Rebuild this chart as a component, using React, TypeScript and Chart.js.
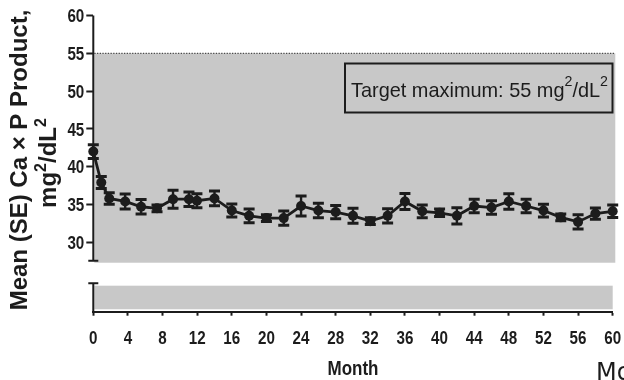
import React, { useEffect, useRef } from 'react';
import { Chart, registerables } from 'chart.js';

Chart.register(...registerables);

// Visit times in months (the first year's visits fell at weeks 4, 8, 16, 24, 32, 40, 48, 52)
const months = [0, 0.92, 1.84, 3.68, 5.52, 7.36, 9.21, 11.05, 11.97, 14, 16, 18, 20, 22, 24, 26, 28, 30, 32, 34, 36, 38, 40, 42, 44, 46, 48, 50, 52, 54, 56, 58, 60];
// Mean Ca x P product, mg2/dL2
const meanCaP = [42.0, 37.9, 35.8, 35.4, 34.7, 34.5, 35.7, 35.7, 35.5, 35.8, 34.2, 33.5, 33.2, 33.2, 34.8, 34.2, 34.0, 33.5, 32.8, 33.5, 35.4, 34.1, 33.9, 33.5, 34.8, 34.6, 35.4, 34.8, 34.2, 33.3, 32.7, 33.8, 34.1];
// Standard error of the mean
const seCaP = [0.9, 0.8, 0.77, 1.0, 0.95, 0.45, 1.2, 0.95, 0.92, 0.97, 0.86, 0.92, 0.45, 0.95, 1.32, 0.95, 0.88, 0.99, 0.45, 0.95, 1.06, 0.84, 0.5, 1.08, 0.9, 0.88, 1.03, 0.88, 0.84, 0.45, 0.93, 0.75, 0.82];

const yTickValues = [30, 35, 40, 45, 50, 55, 60];
const targetMax = 55;

// Broken y axis: upper segment runs down to upperAxisFloor, lower stub starts at lowerAxisTop
const yMax = 60;
const yMin = 20.82;
const upperAxisFloor = 27.57;
const upperPanelFloor = 27.3;
const lowerAxisTop = 24.58;
const lowerPanelTop = 24.26;
const lowerPanelFloor = 21.14;

const INK = '#1c1c1c';
const PANEL = '#c8c8c8';
const SANS = "'Liberation Sans', Arial, sans-serif";
const CONDENSE = 0.8; // horizontal squeeze for the narrow lettering

type Part = { t: string; font: string; dy?: number };

function richWidth(ctx: CanvasRenderingContext2D, parts: Part[]) {
  let w = 0;
  for (const p of parts) {
    ctx.font = p.font;
    w += ctx.measureText(p.t).width;
  }
  return w;
}

// Draws mixed-size text on one baseline; sx squeezes it horizontally
function drawRich(ctx: CanvasRenderingContext2D, parts: Part[], x: number, y: number, align: 'left' | 'center' | 'right', sx = 1) {
  const w = richWidth(ctx, parts);
  ctx.save();
  ctx.translate(x, y);
  ctx.scale(sx, 1);
  let cx = align === 'center' ? -w / 2 : align === 'right' ? -w : 0;
  ctx.textAlign = 'left';
  ctx.textBaseline = 'alphabetic';
  for (const p of parts) {
    ctx.font = p.font;
    ctx.fillText(p.t, cx, p.dy || 0);
    cx += ctx.measureText(p.t).width;
  }
  ctx.restore();
}

const panelPlugin = {
  id: 'panels',
  beforeDraw(chart: any) {
    const { ctx, chartArea } = chart;
    const x = chart.scales.x;
    const y = chart.scales.y;
    const left = chartArea.left + 1;
    const rightUpper = x.getPixelForValue(60.3);
    const rightLower = x.getPixelForValue(60);
    const top = y.getPixelForValue(targetMax);
    ctx.save();
    ctx.fillStyle = PANEL;
    ctx.fillRect(left, top, rightUpper - left, y.getPixelForValue(upperPanelFloor) - top);
    const lt = y.getPixelForValue(lowerPanelTop);
    ctx.fillRect(left, lt, rightLower - left, y.getPixelForValue(lowerPanelFloor) - lt);
    // dotted line marking the target maximum
    ctx.strokeStyle = '#4a4a4a';
    ctx.lineWidth = 1.2;
    ctx.setLineDash([1.3, 1.4]);
    ctx.beginPath();
    ctx.moveTo(left, top);
    ctx.lineTo(rightUpper, top);
    ctx.stroke();
    ctx.restore();
  },
};

const errorBarPlugin = {
  id: 'errorBars',
  beforeDatasetsDraw(chart: any) {
    const { ctx } = chart;
    const x = chart.scales.x;
    const y = chart.scales.y;
    ctx.save();
    ctx.strokeStyle = INK;
    for (let i = 0; i < months.length; i++) {
      const px = x.getPixelForValue(months[i]);
      const hi = y.getPixelForValue(meanCaP[i] + seCaP[i]);
      const lo = y.getPixelForValue(meanCaP[i] - seCaP[i]);
      ctx.lineWidth = 2.4;
      ctx.beginPath();
      ctx.moveTo(px, hi);
      ctx.lineTo(px, lo);
      ctx.stroke();
      ctx.lineWidth = 3;
      ctx.beginPath();
      ctx.moveTo(px - 5.5, hi);
      ctx.lineTo(px + 5.5, hi);
      ctx.moveTo(px - 5.5, lo);
      ctx.lineTo(px + 5.5, lo);
      ctx.stroke();
    }
    ctx.restore();
  },
};

const framePlugin = {
  id: 'frame',
  afterDraw(chart: any) {
    const { ctx, chartArea } = chart;
    const x = chart.scales.x;
    const y = chart.scales.y;
    const ax = chartArea.left;
    ctx.save();
    ctx.strokeStyle = INK;
    ctx.fillStyle = INK;
    ctx.lineWidth = 2;
    const yTop = y.getPixelForValue(yMax);
    const yUpEnd = y.getPixelForValue(upperAxisFloor);
    const yLowStart = y.getPixelForValue(lowerAxisTop);
    ctx.beginPath();
    ctx.moveTo(ax, yTop);
    ctx.lineTo(ax, yUpEnd);
    ctx.moveTo(ax - 5, yUpEnd);
    ctx.lineTo(ax + 5, yUpEnd);
    ctx.moveTo(ax, yLowStart);
    ctx.lineTo(ax, chartArea.bottom + 1);
    ctx.moveTo(ax - 5, yLowStart);
    ctx.lineTo(ax + 5, yLowStart);
    ctx.stroke();

    // narrow tick labels
    const tickFont = `bold 19px ${SANS}`;
    for (const t of y.ticks) {
      const py = y.getPixelForValue(t.value);
      drawRich(ctx, [{ t: String(t.value), font: tickFont }], ax - 9, py + 6.8, 'right', CONDENSE);
    }
    for (const t of x.ticks) {
      const px = x.getPixelForValue(t.value);
      drawRich(ctx, [{ t: String(t.value), font: tickFont }], px, 343.5, 'center', CONDENSE);
    }
    drawRich(ctx, [{ t: 'Month', font: `bold 20px ${SANS}` }], (chartArea.left + chartArea.right) / 2, 374.5, 'center', 0.85);

    // y axis title, two rotated lines
    ctx.save();
    ctx.translate(27, 160);
    ctx.rotate(-Math.PI / 2);
    drawRich(ctx, [{ t: 'Mean (SE) Ca \u00d7 P Product,', font: `bold 24px ${SANS}` }], 0, 0, 'center');
    ctx.restore();
    ctx.save();
    ctx.translate(56, 163);
    ctx.rotate(-Math.PI / 2);
    const supT = `bold 16px ${SANS}`;
    drawRich(ctx, [
      { t: 'mg', font: `bold 24px ${SANS}` },
      { t: '2', font: supT, dy: -10.5 },
      { t: '/dL', font: `bold 24px ${SANS}` },
      { t: '2', font: supT, dy: -10.5 },
    ], 0, 0, 'center');
    ctx.restore();

    // target annotation box
    ctx.lineWidth = 2;
    ctx.strokeRect(345, 63.5, 267.5, 49);
    const main = `21px ${SANS}`;
    const sup = `15px ${SANS}`;
    const label: Part[] = [
      { t: 'Target maximum: 55 mg', font: main },
      { t: '2', font: sup, dy: -11 },
      { t: '/dL', font: main },
      { t: '2', font: sup, dy: -11 },
    ];
    const squeeze = 257 / richWidth(ctx, label);
    drawRich(ctx, label, 351, 97, 'left', squeeze);

    // trailing caption at the lower right edge
    ctx.font = `24px 'DejaVu Sans', sans-serif`;
    ctx.textAlign = 'left';
    ctx.textBaseline = 'alphabetic';
    ctx.fillText('Month', 596, 380);
    ctx.restore();
  },
};

export default function App() {
  const ref = useRef<HTMLCanvasElement>(null);

  useEffect(() => {
    if (!ref.current) return;
    const chart = new Chart(ref.current, {
      type: 'line',
      data: {
        datasets: [
          {
            data: months.map((m, i) => ({ x: m, y: meanCaP[i] })),
            borderColor: INK,
            backgroundColor: INK,
            borderWidth: 2.8,
            pointRadius: 5,
            pointBackgroundColor: INK,
            pointBorderWidth: 0,
            tension: 0,
            clip: false as any,
          },
        ],
      },
      options: {
        animation: false,
        responsive: true,
        maintainAspectRatio: false,
        layout: { padding: { top: 15.5, right: 11.3, bottom: 0, left: 0 } },
        plugins: { legend: { display: false }, tooltip: { enabled: false } },
        scales: {
          x: {
            type: 'linear',
            min: 0,
            max: 60,
            afterFit: (scale: any) => {
              scale.height = 68.3;
            },
            ticks: { stepSize: 4, autoSkip: false, maxRotation: 0, display: false },
            grid: { drawOnChartArea: false, tickLength: 4, tickWidth: 2, tickColor: INK, color: INK },
            border: { display: true, color: INK, width: 2 },
          },
          y: {
            type: 'linear',
            min: yMin,
            max: yMax,
            afterFit: (scale: any) => {
              scale.width = 93.3;
            },
            afterBuildTicks: (scale: any) => {
              scale.ticks = yTickValues.map((v) => ({ value: v }));
            },
            ticks: { display: false },
            grid: { drawOnChartArea: false, tickLength: 7, tickWidth: 2, tickColor: INK, color: INK },
            border: { display: false },
          },
        },
      },
      plugins: [panelPlugin, errorBarPlugin, framePlugin],
    } as any);
    let alive = true;
    document.fonts?.ready.then(() => {
      if (alive) chart.update();
    });
    return () => {
      alive = false;
      chart.destroy();
    };
  }, []);

  return (
    <div style={{ position: 'fixed', left: 0, top: 0, width: 624, height: 380 }}>
      <canvas ref={ref} />
    </div>
  );
}
